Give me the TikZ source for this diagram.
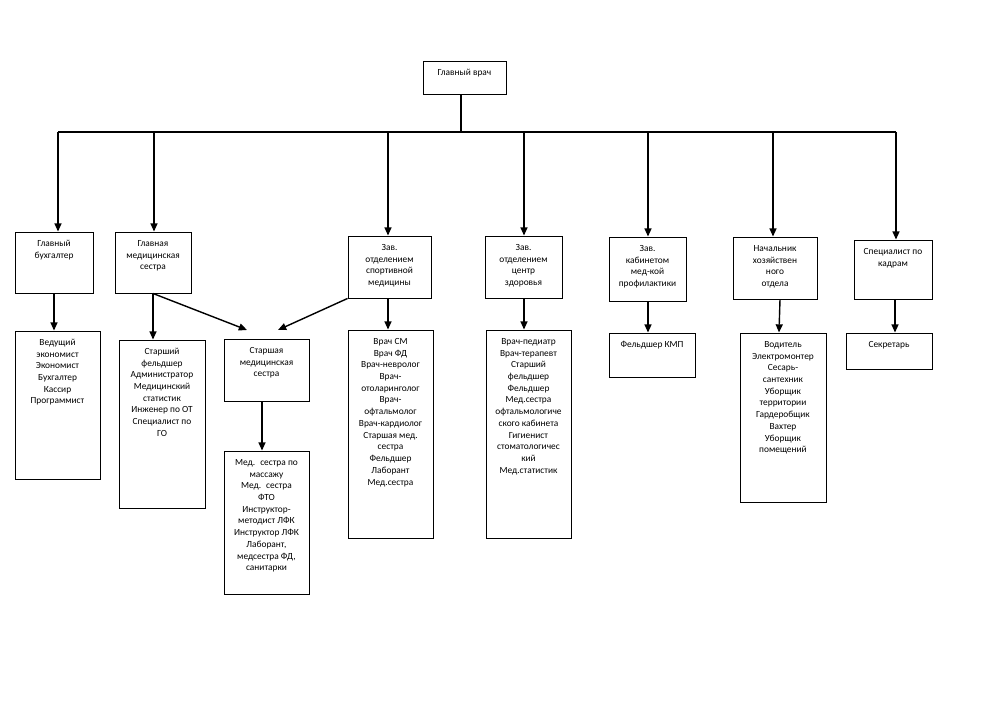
\documentclass[tikz,border=0pt]{standalone}
\usepackage{fontspec}
\setmainfont{Carlito}
\usetikzlibrary{arrows.meta}
\newlength\pu
\setlength\pu{0.03cm}
\newcommand\bx[3]{\parbox[c][#2\pu][t]{#1\pu}{\centering\vspace*{5.3pt}\strut #3\par}}
\begin{document}
\begin{tikzpicture}[x=0.03cm,y=-0.03cm,
  box/.style={draw, line width=0.8pt, inner sep=0pt, font=\fontsize{8}{10}\selectfont},
  conn/.style={line width=1.2pt},
  arr/.style={line width=1.2pt, -{Triangle[length=7pt,width=6pt]}}]
\useasboundingbox (0,0) rectangle (1000,707);
% top
\node[box] (gv) at (464.5,77.5) {\bx{83}{33}{Главный врач}};
% first level
\node[box] (gb)  at (54,262.5)  {\bx{78}{61}{Главный\\бухгалтер}};
\node[box] (gms) at (153,262.5) {\bx{76}{61}{Главная\\медицинская\\сестра}};
\node[box] (zsm) at (389.5,267) {\bx{83}{62}{Зав.\\отделением\\спортивной\\медицины}};
\node[box] (zcz) at (523.5,267) {\bx{77}{62}{Зав.\\отделением\\центр\\здоровья}};
\node[box] (zkp) at (647.5,269) {\bx{77}{64}{Зав.\\кабинетом\\мед-кой\\профилактики}};
\node[box] (nho) at (775,268)   {\bx{84}{62}{Начальник\\хозяйствен\\ного\\отдела}};
\node[box] (sk)  at (893,269.5) {\bx{78}{59}{Специалист по\\кадрам}};
% second level
\node[box] (l1) at (57.5,405)  {\bx{85}{148}{Ведущий\\экономист\\Экономист\\Бухгалтер\\Кассир\\Программист}};
\node[box] (l2) at (162,424)   {\bx{86}{168}{Старший\\фельдшер\\Администратор\\Медицинский\\статистик\\Инженер по ОТ\\Специалист по\\ГО}};
\node[box] (ssn) at (266.5,370) {\bx{85}{62}{Старшая\\медицинская\\сестра}};
\node[box] (l3) at (266.5,522.5) {\bx{85}{143}{Мед.~ сестра по\\массажу\\Мед.~ сестра\\ФТО\\Инструктор-\\методист ЛФК\\Инструктор ЛФК\\Лаборант,\\медсестра ФД,\\санитарки}};
\node[box] (l4) at (390.5,434) {\bx{85}{208}{Врач СМ\\Врач ФД\\Врач-невролог\\Врач-\\отоларинголог\\Врач-\\офтальмолог\\Врач-кардиолог\\Старшая мед.\\сестра\\Фельдшер\\Лаборант\\Мед.сестра}};
\node[box] (l5) at (528.5,434) {\bx{85}{208}{Врач-педиатр\\Врач-терапевт\\Старший\\фельдшер\\Фельдшер\\Мед.сестра\\офтальмологиче\\ского кабинета\\Гигиенист\\стоматологичес\\кий\\Мед.статистик}};
\node[box] (l6) at (652,355)   {\bx{86}{44}{Фельдшер КМП}};
\node[box] (l7) at (783,417.5) {\bx{86}{169}{Водитель\\Электромонтер\\Сесарь-\\сантехник\\Уборщик\\территории\\Гардеробщик\\Вахтер\\Уборщик\\помещений}};
\node[box] (l8) at (889,351)   {\bx{86}{36}{Секретарь}};
% bus
\coordinate (bus) at (461,132);
\coordinate (busL) at (58,132);
\coordinate (busR) at (896,132);
\draw[conn] (gv.south -| bus) -- (bus);
\draw[conn] (busL) -- (busR);
\foreach \n/\x in {gb/58, gms/154, zsm/388, zcz/524, zkp/648, nho/773, sk/896}
  \draw[arr] (\x,132) -- (\x,132 |- \n.north);
% second level arrows
\draw[arr] (gb.south) -- (l1.north -| gb.south);
\draw[arr] (gms.south) -- (l2.north -| gms.south);
\coordinate (ssnL) at (247,330);
\coordinate (ssnR) at (278,330);
\draw[arr] (gms.south) -- (ssnL);
\draw[arr] (zsm.south west) -- (ssnR);
\draw[arr] (ssn.south -| 262,0) -- (l3.north -| 262,0);
\draw[arr] (zsm.south -| 388,0) -- (l4.north -| 388,0);
\draw[arr] (zcz.south -| 524,0) -- (l5.north -| 524,0);
\draw[arr] (zkp.south -| 648,0) -- (l6.north -| 648,0);
\draw[arr] (nho.south -| 780,0) -- (l7.north -| 779,0);
\draw[arr] (sk.south -| 895,0) -- (l8.north -| 895,0);
\end{tikzpicture}
\end{document}
